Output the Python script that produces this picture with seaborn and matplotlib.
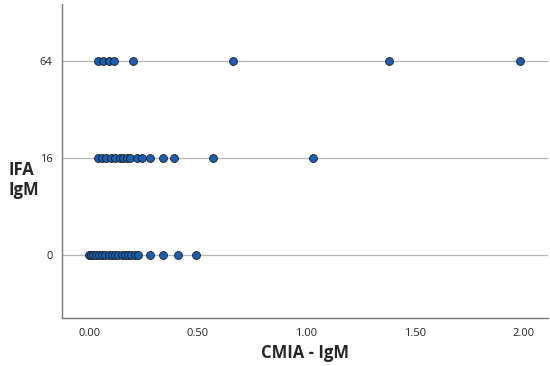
import matplotlib as mpl
import matplotlib.pyplot as plt
import pandas as pd
import seaborn as sns

sns.set_style('white')
mpl.rcParams['font.family'] = ['Open Sans', 'DejaVu Sans']

# IFA IgM titre categories (bottom to top)
ifa_levels = ['0', '16', '64']

# CMIA IgM values, per IFA level
cmia_ifa0 = [0.00, 0.01, 0.02, 0.03, 0.045, 0.06, 0.075, 0.09, 0.105, 0.12,
             0.135, 0.15, 0.165, 0.18, 0.195, 0.21, 0.225, 0.28, 0.34, 0.41, 0.49]
cmia_ifa16 = [0.04, 0.06, 0.08, 0.10, 0.12, 0.14, 0.155, 0.175, 0.19, 0.22,
              0.245, 0.28, 0.34, 0.39, 0.57, 1.03]
cmia_ifa64 = [0.04, 0.065, 0.09, 0.115, 0.20, 0.66, 1.38, 1.98]

df = pd.DataFrame({
    'cmia': cmia_ifa0 + cmia_ifa16 + cmia_ifa64,
    'ifa': (['0'] * len(cmia_ifa0) + ['16'] * len(cmia_ifa16)
            + ['64'] * len(cmia_ifa64)),
})

fig = plt.figure(figsize=(5.5, 3.66), dpi=100)
ax = fig.add_axes([0.113, 0.131, 0.883, 0.857])

for i in range(len(ifa_levels)):
    ax.axhline(i, color='#b4b4b4', linewidth=0.9, zorder=0)

sns.scatterplot(data=df, x='cmia', y='ifa', color='#1b5fae',
                edgecolor='#1a1a1a', linewidth=0.6, s=32, ax=ax, zorder=3)

ax.set_ylim(-0.65, 2.58)
ax.set_xlim(-0.124, 2.11)
ax.set_xticks([0, 0.5, 1.0, 1.5, 2.0])
ax.set_xticklabels(['0.00', '0.50', '1.00', '1.50', '2.00'])
ax.tick_params(axis='both', length=0, labelsize=8, pad=7, colors='#222222')

for side in ['top', 'right']:
    ax.spines[side].set_visible(False)
for side in ['left', 'bottom']:
    ax.spines[side].set_color('#7a7a7a')
    ax.spines[side].set_linewidth(1.0)

ax.set_xlabel('CMIA - IgM', fontsize=12, fontweight='bold', labelpad=4)
ax.set_ylabel('IFA\nIgM', fontsize=12, fontweight='bold', rotation=0,
              ha='left', va='center', multialignment='left')
ax.yaxis.set_label_coords(-0.11, 0.44)

fig.savefig('out.png', dpi=100)
